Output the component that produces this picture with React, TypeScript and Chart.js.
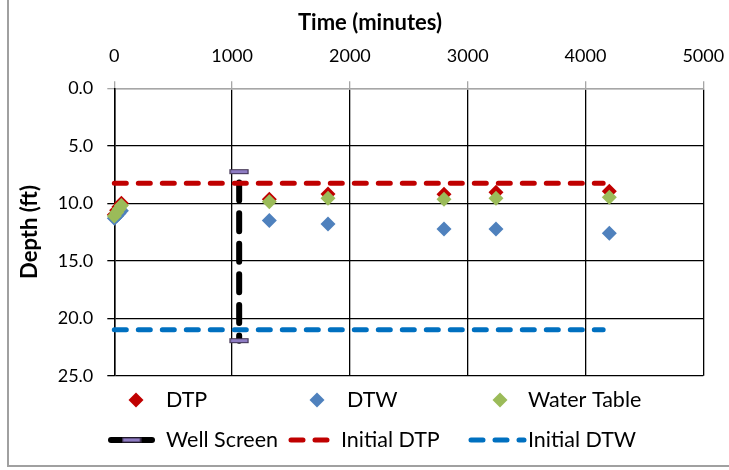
import React, { useEffect, useRef } from 'react';
import { Chart, registerables } from 'chart.js';

Chart.register(...registerables);

// ---- Data ----
const times = [0, 20, 40, 60, 1316, 1814, 2799, 3240, 4202];
const dtp = [11.0, 10.6, 10.3, 10.0, 9.65, 9.2, 9.22, 9.05, 8.95];
const dtw = [11.3, 11.1, 10.9, 10.65, 11.5, 11.8, 12.24, 12.24, 12.6];
const waterTable = [11.1, 10.8, 10.5, 10.2, 9.86, 9.57, 9.65, 9.57, 9.48];

const wellScreenTime = [1060, 1060];
const wellScreenDepth = [7.25, 21.95];
const initialTime = [0, 4150];
const initialDTP = [8.26, 8.26];
const initialDTW = [21.0, 21.0];

const xTicks = [0, 1000, 2000, 3000, 4000, 5000];
const yTicks = [0, 5, 10, 15, 20, 25];

const seriesLabels = ['DTP', 'DTW', 'Water Table', 'Well Screen', 'Initial DTP', 'Initial DTW'];
const xTitle = 'Time (minutes)';
const yTitle = 'Depth (ft)';

const RED = '#C00000';
const BLUE = '#4F81BD';
const GREEN = '#9BBB59';
const LINE_BLUE = '#0070C0';
const GRID = '#000000';
const AXIS_GRAY = '#A6A6A6';
const FONT = 'Lato, "Open Sans", sans-serif';

const toPts = (xs: number[], ys: number[]) => xs.map((x, i) => ({ x, y: ys[i] }));

function makeCap(): HTMLCanvasElement {
  const c = document.createElement('canvas');
  c.width = 20;
  c.height = 7;
  const g = c.getContext('2d')!;
  g.fillStyle = '#8E7CC3';
  g.strokeStyle = '#3F3151';
  g.lineWidth = 1.2;
  g.beginPath();
  g.rect(1, 1.5, 18, 4);
  g.fill();
  g.stroke();
  return c;
}

function diamond(ctx: CanvasRenderingContext2D, x: number, y: number, r: number, color: string) {
  ctx.beginPath();
  ctx.moveTo(x - r, y);
  ctx.lineTo(x, y - r);
  ctx.lineTo(x + r, y);
  ctx.lineTo(x, y + r);
  ctx.closePath();
  ctx.fillStyle = color;
  ctx.fill();
}

const decorPlugin = (cap: HTMLCanvasElement) => ({
  id: 'decor',
  afterDraw(chart: any) {
    const ctx: CanvasRenderingContext2D = chart.ctx;
    const ds = chart.data.datasets;
    ctx.save();
    // axis titles
    ctx.fillStyle = '#000';
    ctx.font = `bold 22px ${FONT}`;
    ctx.textAlign = 'center';
    ctx.textBaseline = 'middle';
    ctx.fillText(xTitle, 370, 23);
    ctx.save();
    ctx.translate(30, 232);
    ctx.rotate(-Math.PI / 2);
    ctx.fillText(yTitle, 0, 0);
    ctx.restore();

    // legend
    ctx.font = `21.5px ${FONT}`;
    ctx.textAlign = 'left';
    const row1 = 400;
    const row2 = 440;
    const markerItems = [
      { i: 0, mx: 136, tx: 166 },
      { i: 1, mx: 317, tx: 347 },
      { i: 2, mx: 500, tx: 528 },
    ];
    markerItems.forEach(({ i, mx, tx }) => {
      diamond(ctx, mx, row1, 7.5, ds[i].backgroundColor);
      ctx.fillStyle = '#000';
      ctx.fillText(ds[i].label, tx, row1);
    });
    const lineItems = [
      { i: 3, x0: 111, x1: 152, tx: 166 },
      { i: 4, x0: 291, x1: 338, tx: 341 },
      { i: 5, x0: 471, x1: 524, tx: 528 },
    ];
    lineItems.forEach(({ i, x0, x1, tx }) => {
      const d = ds[i];
      ctx.save();
      ctx.strokeStyle = d.borderColor;
      ctx.lineWidth = d.borderWidth;
      ctx.lineCap = 'round';
      if (i === 3) {
        ctx.setLineDash([]);
        ctx.beginPath();
        ctx.moveTo(x0, row2);
        ctx.lineTo(x1, row2);
        ctx.stroke();
        ctx.drawImage(cap, (x0 + x1) / 2 - 10, row2 - 3.5);
      } else {
        ctx.setLineDash(d.borderDash);
        ctx.beginPath();
        ctx.moveTo(x0, row2);
        ctx.lineTo(x1, row2);
        ctx.stroke();
      }
      ctx.restore();
      ctx.fillStyle = '#000';
      ctx.fillText(d.label, tx, row2);
    });
    ctx.restore();
  },
});

export default function App() {
  const ref = useRef<HTMLCanvasElement | null>(null);

  useEffect(() => {
    if (!ref.current) return;
    const cap = makeCap();
    const chart = new Chart(ref.current, {
      type: 'scatter',
      data: {
        datasets: [
          {
            label: seriesLabels[0],
            data: toPts(times, dtp),
            backgroundColor: RED,
            borderColor: RED,
            borderWidth: 0,
            pointStyle: 'rectRot',
            pointRadius: 7.5,
            order: 6,
            clip: false,
          },
          {
            label: seriesLabels[1],
            data: toPts(times, dtw),
            backgroundColor: BLUE,
            borderColor: BLUE,
            borderWidth: 0,
            pointStyle: 'rectRot',
            pointRadius: 7.5,
            order: 5,
            clip: false,
          },
          {
            label: seriesLabels[2],
            data: toPts(times, waterTable),
            backgroundColor: GREEN,
            borderColor: GREEN,
            borderWidth: 0,
            pointStyle: 'rectRot',
            pointRadius: 7.5,
            order: 4,
            clip: false,
          },
          {
            label: seriesLabels[3],
            data: toPts(wellScreenTime, wellScreenDepth),
            showLine: true,
            borderColor: '#000000',
            backgroundColor: '#000000',
            borderWidth: 6,
            borderDash: [18, 12.6],
            borderDashOffset: 19.7,
            borderCapStyle: 'round',
            pointStyle: cap as any,
            pointRadius: 9,
            order: 3,
            clip: false,
          } as any,
          {
            label: seriesLabels[4],
            data: toPts(initialTime, initialDTP),
            showLine: true,
            borderColor: RED,
            backgroundColor: RED,
            borderWidth: 5,
            borderDash: [12, 12],
            borderCapStyle: 'round',
            pointRadius: 0,
            order: 2,
            clip: false,
          } as any,
          {
            label: seriesLabels[5],
            data: toPts(initialTime, initialDTW),
            showLine: true,
            borderColor: LINE_BLUE,
            backgroundColor: LINE_BLUE,
            borderWidth: 5,
            borderDash: [12, 12],
            borderCapStyle: 'round',
            pointRadius: 0,
            order: 1,
            clip: false,
          } as any,
        ],
      },
      options: {
        responsive: false,
        animation: false,
        events: [],
        layout: { padding: { left: 10, top: 0, right: 25.7, bottom: 94.3 } },
        plugins: {
          legend: { display: false },
          tooltip: { enabled: false },
        },
        scales: {
          x: {
            type: 'linear',
            position: 'top',
            min: xTicks[0],
            max: xTicks[xTicks.length - 1],
            afterBuildTicks: (s: any) => {
              s.ticks = xTicks.map((v) => ({ value: v }));
            },
            afterFit: (s: any) => {
              s.height = 88.3;
              s.paddingLeft = 0;
              s.paddingRight = 0;
            },
            ticks: {
              color: '#000',
              font: { family: FONT, size: 18 },
              padding: 14,
              maxRotation: 0,
              callback: (v: any) => String(v),
            },
            grid: {
              color: GRID,
              lineWidth: 1.3,
              tickColor: AXIS_GRAY,
              tickLength: 7,
              drawTicks: true,
            },
            border: { display: true, color: AXIS_GRAY, width: 1.5 },
            title: { display: false },
          },
          y: {
            type: 'linear',
            reverse: true,
            min: yTicks[0],
            max: yTicks[yTicks.length - 1],
            afterBuildTicks: (s: any) => {
              s.ticks = yTicks.map((v) => ({ value: v }));
            },
            afterFit: (s: any) => {
              s.width = 104.3;
              s.paddingTop = 0;
              s.paddingBottom = 0;
            },
            ticks: {
              color: '#000',
              font: { family: FONT, size: 18 },
              padding: 14,
              callback: (v: any) => Number(v).toFixed(1),
            },
            grid: {
              color: (c: any) => (c.tick && c.tick.value === 0 ? AXIS_GRAY : GRID),
              tickColor: (c: any) => (c.tick && c.tick.value === 0 ? AXIS_GRAY : GRID),
              lineWidth: 1.3,
              tickLength: 7,
              drawTicks: true,
            },
            border: { display: true, color: GRID, width: 1.5 },
            title: { display: false },
          },
        },
      },
      plugins: [decorPlugin(cap)],
    } as any);
    return () => chart.destroy();
  }, []);

  return (
    <div
      style={{
        position: 'absolute',
        left: 0,
        top: 0,
        width: 729,
        height: 470,
        overflow: 'hidden',
        background: '#fff',
      }}
    >
      <div
        style={{
          position: 'absolute',
          left: 7,
          top: -6,
          width: 740,
          height: 473,
          border: '2px solid #A0A0A0',
          boxSizing: 'border-box',
        }}
      />
      <canvas ref={ref} width={729} height={470} style={{ position: 'absolute', left: 0, top: 0 }} />
    </div>
  );
}
